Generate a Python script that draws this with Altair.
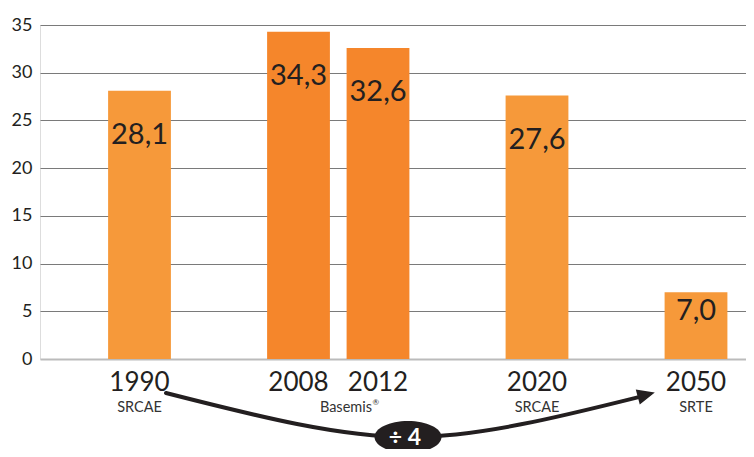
import altair as alt
import pandas as pd

# ---- data ----
years = ["1990", "2008", "2012", "2020", "2050"]
values = [28.1, 34.3, 32.6, 27.6, 7.0]
sources = ["SRCAE", "", "", "SRCAE", "SRTE"]
group_label = "Basemis"
group_mark = "®"
y_ticks = [0, 5, 10, 15, 20, 25, 30, 35]
ratio_label = "÷ 4"

# x slots (empty slots give the uneven spacing between bars)
slots = ["1990", " ", "2008", "2012", "  ", "2020", "   ", "2050"]

df = pd.DataFrame({"year": years, "value": values, "source": sources})

W, H = 706, 334
INK = "#231f20"
FONT = "Lato"

xscale = alt.Scale(domain=slots, paddingInner=0.21, paddingOuter=0.5453, align=0.7855)
yscale = alt.Scale(domain=[0, 35], nice=False, zero=True)

base = alt.Chart(df)

bars = base.mark_bar().encode(
    x=alt.X("year:N", scale=xscale, axis=None, sort=slots),
    y=alt.Y(
        "value:Q",
        scale=yscale,
        axis=alt.Axis(
            values=y_ticks,
            title=None,
            domain=False,
            ticks=False,
            grid=True,
            gridColor=alt.condition("datum.value === 0", alt.value("#bbbbbb"), alt.value("#7a7a7a")),
            gridWidth=alt.condition("datum.value === 0", alt.value(2), alt.value(1)),
            labelFont=FONT,
            labelFontSize=18,
            labelColor=INK,
            labelPadding=8,
        ),
    ),
    color=alt.condition(
        "datum.year === '2008' || datum.year === '2012'",
        alt.value("#f5862b"),
        alt.value("#f6993a"),
    ),
)

value_labels = base.transform_calculate(
    label="replace(format(datum.value, '.1f'), '.', ',')",
    ly="datum.value < 10 ? datum.value - 2.9 : datum.value - 5.6",
).mark_text(font=FONT, fontSize=29, color=INK, baseline="alphabetic").encode(
    x=alt.X("year:N", scale=xscale, sort=slots),
    y=alt.Y("ly:Q", scale=yscale),
    text="label:N",
)

year_labels = base.mark_text(font=FONT, fontSize=26, color=INK, baseline="alphabetic").encode(
    x=alt.X("year:N", scale=xscale, sort=slots),
    y=alt.value(366),
    text="year:N",
)

source_labels = base.mark_text(font=FONT, fontSize=14.5, color="#333333", baseline="alphabetic").encode(
    x=alt.X("year:N", scale=xscale, sort=slots),
    y=alt.value(387),
    text="source:N",
)

one = alt.Data(values=[{"k": 1}])

group_text = alt.Chart(one).mark_text(
    font=FONT, fontSize=14.5, color="#333333", baseline="alphabetic", align="right"
).encode(x=alt.value(332), y=alt.value(387), text=alt.value(group_label))

group_sup = alt.Chart(one).mark_text(
    font=FONT, fontSize=8, color="#333333", baseline="alphabetic", align="left"
).encode(x=alt.value(332.5), y=alt.value(380), text=alt.value(group_mark))

curve = alt.Chart(one).mark_point(
    shape="M 126 368 C 220 392 300 412 370 412 C 440 412 523 391 603 371",
    filled=False,
    stroke=INK,
    strokeWidth=4,
    opacity=1,
    strokeCap="round",
).encode(x=alt.value(0), y=alt.value(0), size=alt.value(4))

arrowhead = alt.Chart(one).mark_point(
    shape="M 613 368 L 596.8 365.5 L 600.2 378.1 Z",
    filled=True,
    fill=INK,
    stroke=INK,
    strokeWidth=1.5,
    opacity=1,
).encode(x=alt.value(0), y=alt.value(0), size=alt.value(4))

badge = alt.Chart(one).mark_point(
    shape="M 334.5 412 A 33.5 16 0 1 0 401.5 412 A 33.5 16 0 1 0 334.5 412 Z",
    filled=True,
    fill=INK,
    strokeWidth=0,
    opacity=1,
).encode(x=alt.value(0), y=alt.value(0), size=alt.value(4))

badge_text = alt.Chart(one).mark_text(
    font=FONT, fontSize=23, fontWeight="bold", color="white", baseline="alphabetic", align="center"
).encode(x=alt.value(365), y=alt.value(420), text=alt.value(ratio_label))

chart = alt.layer(
    bars, value_labels, year_labels, source_labels, group_text, group_sup,
    curve, arrowhead, badge, badge_text,
).properties(
    width=W,
    height=H,
    autosize=alt.AutoSizeParams(type="none"),
    padding={"left": 32, "top": 17, "right": 0, "bottom": 90},
).configure_view(stroke=None).configure(background="white")

chart.save("out.html", embed_options={"renderer": "svg", "actions": False})
